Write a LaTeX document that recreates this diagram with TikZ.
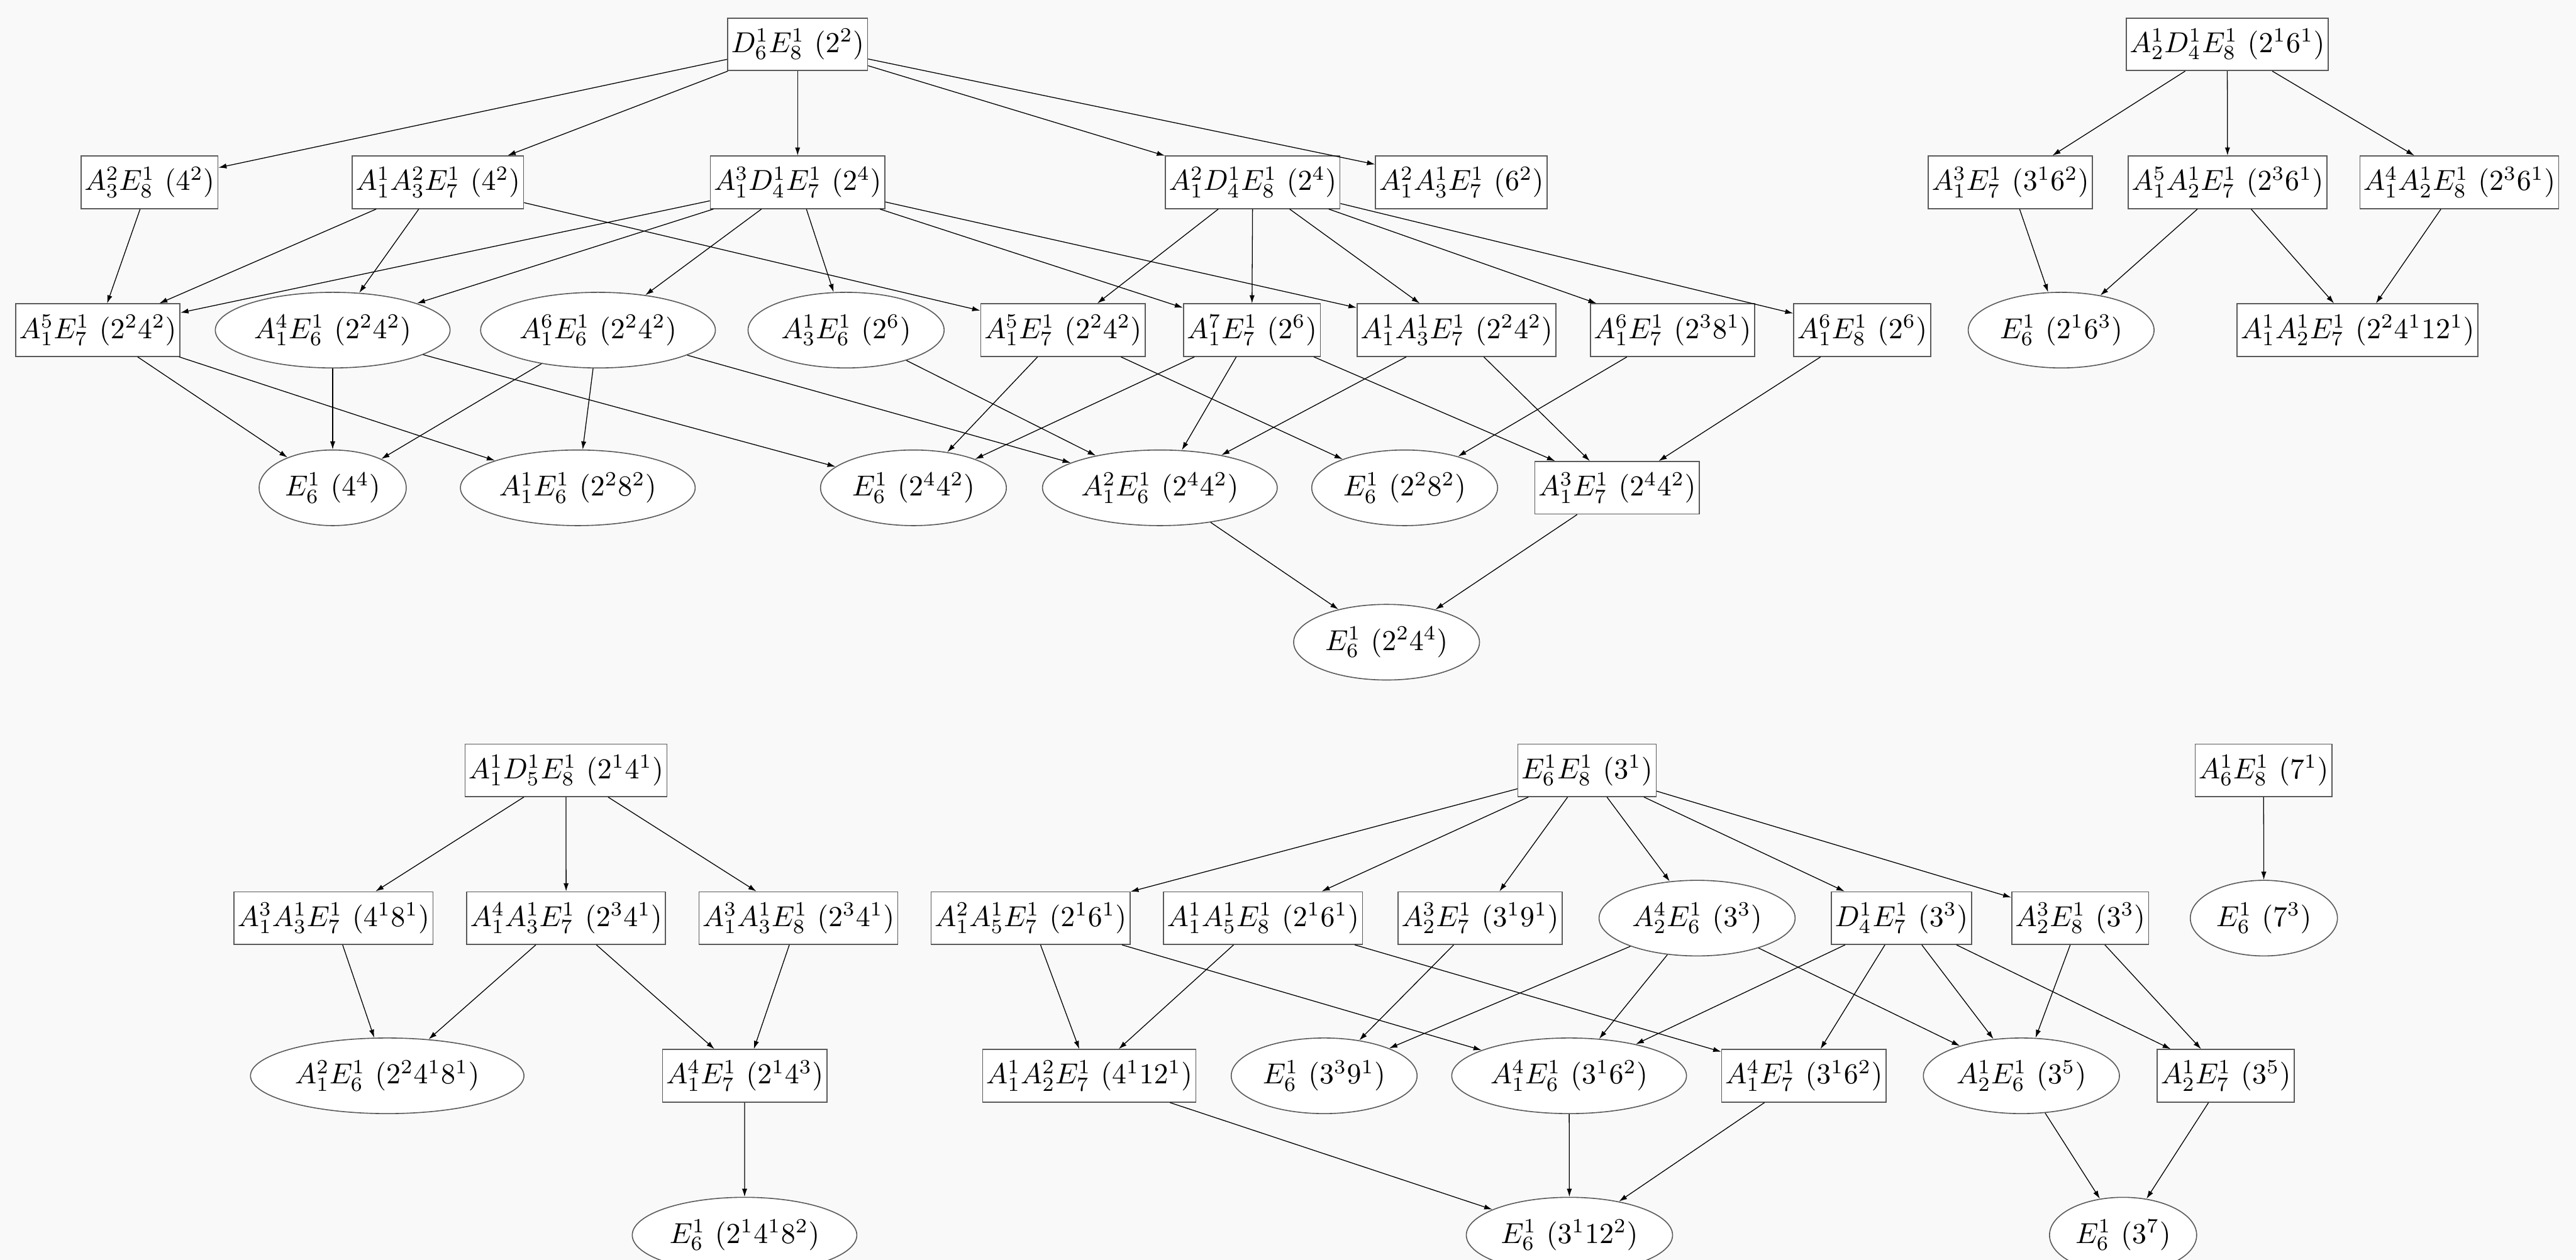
\documentclass[tikz,border=0pt]{standalone}
\usetikzlibrary{arrows.meta,shapes.geometric}
\definecolor{bggray}{HTML}{F9F9F9}
\definecolor{framegray}{HTML}{5A5A5A}
\begin{document}
\begin{tikzpicture}[x=0.02cm,y=-0.02cm,line width=0.28pt,
  >={Latex[length=2.8pt,width=1.8pt]},
  box/.style={draw=framegray,fill=white,rectangle,line width=0.35pt,minimum height=18.2pt,inner xsep=1.2pt},
  oval/.style={draw=framegray,fill=white,ellipse,line width=0.35pt,minimum height=26.2pt,inner xsep=1.5pt,inner ysep=0pt}]
\fill[bggray] (0,0) rectangle (1568,767);
\clip (0,0) rectangle (1568,767);
\useasboundingbox (0,0) rectangle (1568,767);

\node[box] (dsix) at (485.5,27) {$D_6^1E_8^1\ (2^2)$};
\node[box] (a3e8) at (91,111) {$A_3^2E_8^1\ (4^2)$};
\node[box] (a1a3e7a) at (266.5,111) {$A_1^1A_3^2E_7^1\ (4^2)$};
\node[box] (a1d4e7) at (485.5,111) {$A_1^3D_4^1E_7^1\ (2^4)$};
\node[box] (a1d4e8) at (762.5,111) {$A_1^2D_4^1E_8^1\ (2^4)$};
\node[box] (a1a3e7b) at (889.5,111) {$A_1^2A_3^1E_7^1\ (6^2)$};
\node[box] (a1e7a) at (59.5,201) {$A_1^5E_7^1\ (2^24^2)$};
\node[oval] (a1e6a) at (202.5,201) {$A_1^4E_6^1\ (2^24^2)$};
\node[oval] (a1e6b) at (364,201) {$A_1^6E_6^1\ (2^24^2)$};
\node[oval] (a3e6) at (515,201) {$A_3^1E_6^1\ (2^6)$};
\node[box] (a1e7b) at (647,201) {$A_1^5E_7^1\ (2^24^2)$};
\node[box] (a1e7c) at (762,201) {$A_1^7E_7^1\ (2^6)$};
\node[box] (a1a3e7c) at (886.6,201) {$A_1^1A_3^1E_7^1\ (2^24^2)$};
\node[box] (a1e7d) at (1018,201) {$A_1^6E_7^1\ (2^38^1)$};
\node[box] (a1e8) at (1133.5,201) {$A_1^6E_8^1\ (2^6)$};
\node[oval] (e6a) at (202.5,297) {$E_6^1\ (4^4)$};
\node[oval] (a1e6c) at (351.7,297) {$A_1^1E_6^1\ (2^28^2)$};
\node[oval] (e6b) at (556,297) {$E_6^1\ (2^44^2)$};
\node[oval] (a1e6d) at (706,297) {$A_1^2E_6^1\ (2^44^2)$};
\node[oval] (e6c) at (855,297) {$E_6^1\ (2^28^2)$};
\node[box] (a1e7e) at (984.3,297) {$A_1^3E_7^1\ (2^44^2)$};
\node[oval] (e6d) at (844,391) {$E_6^1\ (2^24^4)$};

\node[box] (a2d4e8) at (1355.7,27) {$A_2^1D_4^1E_8^1\ (2^16^1)$};
\node[box] (a1e7f) at (1223.7,111) {$A_1^3E_7^1\ (3^16^2)$};
\node[box] (a1a2e7a) at (1355.9,111) {$A_1^5A_2^1E_7^1\ (2^36^1)$};
\node[box] (a1a2e8) at (1497,111) {$A_1^4A_2^1E_8^1\ (2^36^1)$};
\node[oval] (e6e) at (1254.6,201) {$E_6^1\ (2^16^3)$};
\node[box] (a1a2e7b) at (1435,201) {$A_1^1A_2^1E_7^1\ (2^24^112^1)$};

\node[box] (a1d5e8) at (344.5,469) {$A_1^1D_5^1E_8^1\ (2^14^1)$};
\node[box] (a1a3e7d) at (203,559) {$A_1^3A_3^1E_7^1\ (4^18^1)$};
\node[box] (a1a3e7e) at (344.6,559) {$A_1^4A_3^1E_7^1\ (2^34^1)$};
\node[box] (a1a3e8) at (486,559) {$A_1^3A_3^1E_8^1\ (2^34^1)$};
\node[oval] (a1e6e) at (235.7,655) {$A_1^2E_6^1\ (2^24^18^1)$};
\node[box] (a1e7g) at (453.3,655) {$A_1^4E_7^1\ (2^14^3)$};
\node[oval] (e6f) at (453.2,752) {$E_6^1\ (2^14^18^2)$};

\node[box] (e6e8) at (966,469) {$E_6^1E_8^1\ (3^1)$};
\node[box] (a1a5e7) at (627.3,559) {$A_1^2A_5^1E_7^1\ (2^16^1)$};
\node[box] (a1a5e8) at (768.8,559) {$A_1^1A_5^1E_8^1\ (2^16^1)$};
\node[box] (a2e7a) at (900.9,559) {$A_2^3E_7^1\ (3^19^1)$};
\node[oval] (a2e6a) at (1033,559) {$A_2^4E_6^1\ (3^3)$};
\node[box] (d4e7) at (1157.4,559) {$D_4^1E_7^1\ (3^3)$};
\node[box] (a2e8) at (1266.2,559) {$A_2^3E_8^1\ (3^3)$};
\node[box] (a1a2e7c) at (663,655) {$A_1^1A_2^2E_7^1\ (4^112^1)$};
\node[oval] (e6g) at (806,655) {$E_6^1\ (3^39^1)$};
\node[oval] (a1e6f) at (955.1,655) {$A_1^4E_6^1\ (3^16^2)$};
\node[box] (a1e7h) at (1098,655) {$A_1^4E_7^1\ (3^16^2)$};
\node[oval] (a2e6b) at (1230.4,655) {$A_2^1E_6^1\ (3^5)$};
\node[box] (a2e7b) at (1354.8,655) {$A_2^1E_7^1\ (3^5)$};
\node[oval] (e6h) at (955.3,752) {$E_6^1\ (3^112^2)$};
\node[oval] (e6i) at (1292.3,752) {$E_6^1\ (3^7)$};

\node[box] (a6e8) at (1377.8,469) {$A_6^1E_8^1\ (7^1)$};
\node[oval] (e6j) at (1378,559) {$E_6^1\ (7^3)$};

\draw[->] (dsix) -- (a3e8);
\draw[->] (dsix) -- (a1a3e7a);
\draw[->] (dsix) -- (a1d4e7);
\draw[->] (dsix) -- (a1d4e8);
\draw[->] (dsix) -- (a1a3e7b);
\draw[->] (a3e8) -- (a1e7a);
\draw[->] (a1a3e7a) -- (a1e7a);
\draw[->] (a1a3e7a) -- (a1e6a);
\draw[->] (a1a3e7a) -- (a1e7b);
\draw[->] (a1d4e7) -- (a1e7a);
\draw[->] (a1d4e7) -- (a1e6a);
\draw[->] (a1d4e7) -- (a1e6b);
\draw[->] (a1d4e7) -- (a3e6);
\draw[->] (a1d4e7) -- (a1e7c);
\draw[->] (a1d4e7) -- (a1a3e7c);
\draw[->] (a1d4e8) -- (a1e7b);
\draw[->] (a1d4e8) -- (a1e7c);
\draw[->] (a1d4e8) -- (a1a3e7c);
\draw[->] (a1d4e8) -- (a1e7d);
\draw[->] (a1d4e8) -- (a1e8);
\draw[->] (a1e7a) -- (e6a);
\draw[->] (a1e7a) -- (a1e6c);
\draw[->] (a1e6a) -- (e6a);
\draw[->] (a1e6a) -- (e6b);
\draw[->] (a1e6b) -- (e6a);
\draw[->] (a1e6b) -- (a1e6c);
\draw[->] (a1e6b) -- (a1e6d);
\draw[->] (a3e6) -- (a1e6d);
\draw[->] (a1e7b) -- (e6b);
\draw[->] (a1e7b) -- (e6c);
\draw[->] (a1e7c) -- (e6b);
\draw[->] (a1e7c) -- (a1e6d);
\draw[->] (a1e7c) -- (a1e7e);
\draw[->] (a1a3e7c) -- (a1e6d);
\draw[->] (a1a3e7c) -- (a1e7e);
\draw[->] (a1e7d) -- (e6c);
\draw[->] (a1e8) -- (a1e7e);
\draw[->] (a1e6d) -- (e6d);
\draw[->] (a1e7e) -- (e6d);

\draw[->] (a2d4e8) -- (a1e7f);
\draw[->] (a2d4e8) -- (a1a2e7a);
\draw[->] (a2d4e8) -- (a1a2e8);
\draw[->] (a1e7f) -- (e6e);
\draw[->] (a1a2e7a) -- (e6e);
\draw[->] (a1a2e7a) -- (a1a2e7b);
\draw[->] (a1a2e8) -- (a1a2e7b);

\draw[->] (a1d5e8) -- (a1a3e7d);
\draw[->] (a1d5e8) -- (a1a3e7e);
\draw[->] (a1d5e8) -- (a1a3e8);
\draw[->] (a1a3e7d) -- (a1e6e);
\draw[->] (a1a3e7e) -- (a1e6e);
\draw[->] (a1a3e7e) -- (a1e7g);
\draw[->] (a1a3e8) -- (a1e7g);
\draw[->] (a1e7g) -- (e6f);

\draw[->] (e6e8) -- (a1a5e7);
\draw[->] (e6e8) -- (a1a5e8);
\draw[->] (e6e8) -- (a2e7a);
\draw[->] (e6e8) -- (a2e6a);
\draw[->] (e6e8) -- (d4e7);
\draw[->] (e6e8) -- (a2e8);
\draw[->] (a1a5e7) -- (a1a2e7c);
\draw[->] (a1a5e7) -- (a1e6f);
\draw[->] (a1a5e8) -- (a1a2e7c);
\draw[->] (a1a5e8) -- (a1e7h);
\draw[->] (a2e7a) -- (e6g);
\draw[->] (a2e6a) -- (e6g);
\draw[->] (a2e6a) -- (a1e6f);
\draw[->] (a2e6a) -- (a2e6b);
\draw[->] (d4e7) -- (a1e6f);
\draw[->] (d4e7) -- (a1e7h);
\draw[->] (d4e7) -- (a2e6b);
\draw[->] (d4e7) -- (a2e7b);
\draw[->] (a2e8) -- (a2e6b);
\draw[->] (a2e8) -- (a2e7b);
\draw[->] (a1a2e7c) -- (e6h);
\draw[->] (a1e6f) -- (e6h);
\draw[->] (a1e7h) -- (e6h);
\draw[->] (a2e6b) -- (e6i);
\draw[->] (a2e7b) -- (e6i);

\draw[->] (a6e8) -- (e6j);
\end{tikzpicture}
\end{document}
